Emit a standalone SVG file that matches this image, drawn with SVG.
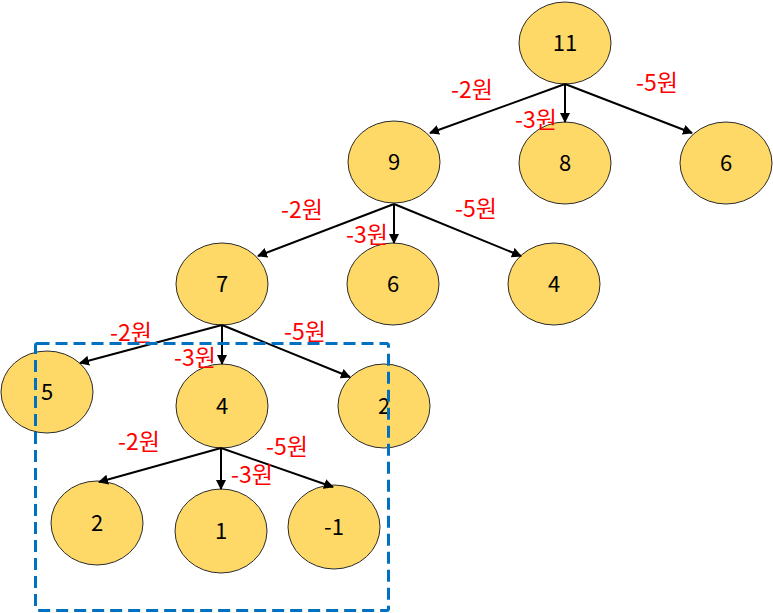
<svg xmlns="http://www.w3.org/2000/svg" width="773" height="613" viewBox="0 0 773 613">
<style>
.n ellipse{fill:#FED967;stroke:#2b2b2b;stroke-width:1}
.n text{font-family:"Noto Sans CJK KR","Liberation Sans",sans-serif;font-size:22px;fill:#000;text-anchor:middle}
.e line{stroke:#000;stroke-width:2;marker-end:url(#ah)}
.l text{font-family:"Noto Sans CJK KR","Liberation Sans",sans-serif;font-size:23px;fill:#FF0000;text-anchor:middle}
</style>
<defs>
<marker id="ah" viewBox="0 0 10 10" refX="9" refY="5" markerWidth="5" markerHeight="5" orient="auto" markerUnits="strokeWidth">
<path d="M0,0 L10,5 L0,10 z" fill="#000"/>
</marker>
</defs>
<rect width="773" height="613" fill="#fff"/>
<g class="n">
<g id="n11"><ellipse cx="565" cy="43" rx="46" ry="41"/><text x="565" y="51">11</text></g>
<g id="n9"><ellipse cx="394" cy="162" rx="46" ry="41"/><text x="394" y="170">9</text></g>
<g id="n8"><ellipse cx="565" cy="163" rx="46" ry="41"/><text x="565" y="171">8</text></g>
<g id="n6a"><ellipse cx="726" cy="163" rx="46" ry="41"/><text x="726" y="171">6</text></g>
<g id="n7"><ellipse cx="222" cy="284" rx="46" ry="41"/><text x="222" y="292">7</text></g>
<g id="n6b"><ellipse cx="393" cy="284" rx="46" ry="41"/><text x="393" y="292">6</text></g>
<g id="n4a"><ellipse cx="554" cy="284" rx="46" ry="41"/><text x="554" y="292">4</text></g>
<g id="n5"><ellipse cx="47" cy="392" rx="46" ry="41"/><text x="47" y="400">5</text></g>
<g id="n4b"><ellipse cx="222" cy="406" rx="46" ry="42"/><text x="222" y="414">4</text></g>
<g id="n2a"><ellipse cx="384" cy="406" rx="46" ry="42"/><text x="384" y="414">2</text></g>
<g id="n2b"><ellipse cx="97" cy="523" rx="46" ry="42"/><text x="97" y="531">2</text></g>
<g id="n1"><ellipse cx="221" cy="531" rx="46" ry="42"/><text x="221" y="539">1</text></g>
<g id="nm1"><ellipse cx="334" cy="527" rx="46" ry="42"/><text x="334" y="535">-1</text></g>
</g>
<g class="e" id="connectors">
<line x1="565" y1="84" x2="430" y2="133"/>
<line x1="565" y1="84" x2="565" y2="122"/>
<line x1="565" y1="84" x2="692" y2="133"/>
<line x1="394" y1="204" x2="258" y2="256"/>
<line x1="394" y1="204" x2="394" y2="243"/>
<line x1="394" y1="204" x2="521" y2="256"/>
<line x1="222" y1="325" x2="80" y2="363"/>
<line x1="222" y1="325" x2="222" y2="364"/>
<line x1="222" y1="325" x2="350" y2="377"/>
<line x1="221" y1="448" x2="99" y2="482"/>
<line x1="221" y1="448" x2="221" y2="489"/>
<line x1="221" y1="448" x2="333" y2="487"/>
</g>
<g class="l" id="labels">
<text x="472" y="98">-2원</text>
<text x="536" y="128">-3원</text>
<text x="657" y="91">-5원</text>
<text x="302" y="218">-2원</text>
<text x="367" y="243">-3원</text>
<text x="476" y="217">-5원</text>
<text x="131" y="341">-2원</text>
<text x="195" y="366">-3원</text>
<text x="305" y="340">-5원</text>
<text x="139" y="450">-2원</text>
<text x="252" y="483">-3원</text>
<text x="287" y="455">-5원</text>
</g>
<rect id="selection" x="35.5" y="343.5" width="353" height="267" rx="2" fill="none" stroke="#0070C0" stroke-width="3" stroke-dasharray="12 6"/>
</svg>
